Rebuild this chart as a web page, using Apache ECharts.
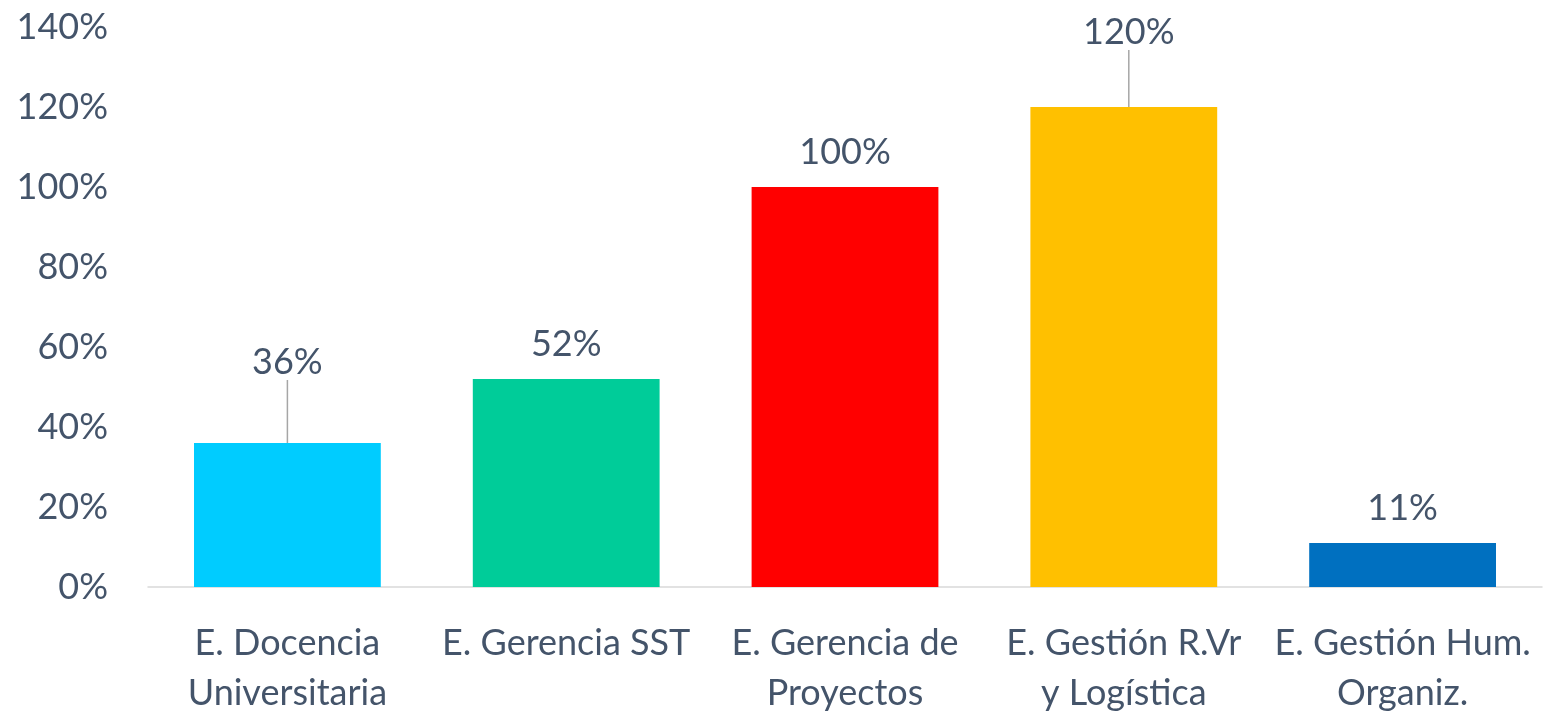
<!DOCTYPE html>
<html>
<head>
<meta charset="utf-8">
<script src="https://cdn.jsdelivr.net/npm/echarts@6/dist/echarts.min.js"></script>
<style>
  html, body { margin: 0; padding: 0; background: #ffffff; }
  #chart { width: 1547px; height: 715px; }
</style>
</head>
<body>
<div id="chart"></div>
<script>
// Programas de especialización y su porcentaje de cumplimiento
const categories = [
  'E. Docencia\nUniversitaria',
  'E. Gerencia SST',
  'E. Gerencia de\nProyectos',
  'E. Gestión R.Vr\ny Logística',
  'E. Gestión Hum.\nOrganiz.'
];
const values = [36, 52, 100, 120, 11];
const barColors = ['#00CCFF', '#00CC99', '#FF0000', '#FFC000', '#0070C0'];

// Etiquetas desplazadas con línea guía (índice -> desplazamiento)
const labelShift = { 0: { dx: 0, dy: -46 }, 3: { dx: 5, dy: -40 } };

const textColor = '#44546A';
const fontFamily = 'Lato, "Open Sans", sans-serif';

const chart = echarts.init(document.getElementById('chart'), null, { renderer: 'canvas' });

chart.setOption({
  animation: false,
  grid: { left: 148, right: 5, top: 27, bottom: 128, containLabel: false, outerBoundsMode: 'none' },
  xAxis: {
    type: 'category',
    data: categories,
    axisLine: { show: true, lineStyle: { color: '#D9D9D9', width: 1.5 } },
    axisTick: { show: false },
    axisLabel: {
      color: textColor,
      fontFamily: fontFamily,
      fontSize: 36,
      lineHeight: 50,
      margin: 31,
      interval: 0
    }
  },
  yAxis: {
    type: 'value',
    min: 0,
    max: 140,
    interval: 20,
    axisLine: { show: false },
    axisTick: { show: false },
    splitLine: { show: false },
    axisLabel: {
      color: textColor,
      fontFamily: fontFamily,
      fontSize: 36,
      margin: 40,
      formatter: v => v + '%'
    }
  },
  series: [{
    type: 'bar',
    barWidth: '67%',
    data: values.map((v, i) => ({
      value: v,
      itemStyle: { color: barColors[i] },
      labelLine: { show: !!labelShift[i] }
    })),
    label: {
      show: true,
      position: 'top',
      distance: 17,
      color: textColor,
      fontFamily: fontFamily,
      fontSize: 36,
      formatter: p => p.value + '%'
    },
    labelLine: {
      show: false,
      lineStyle: { color: '#A6A6A6', width: 1.5 }
    },
    labelLayout: p => labelShift[p.dataIndex] || {}
  }]
});
</script>
</body>
</html>
